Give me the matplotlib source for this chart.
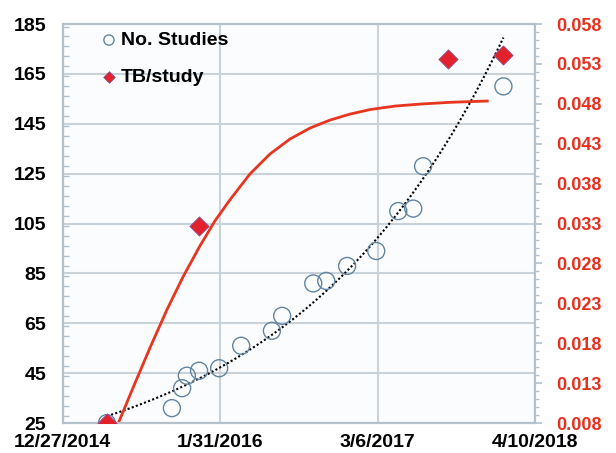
import numpy as np
import pandas as pd
import matplotlib
matplotlib.use("Agg")
import matplotlib.pyplot as plt
from matplotlib.ticker import MultipleLocator

plt.rcParams['font.family'] = ['Liberation Sans', 'DejaVu Sans']

# ---- data ----
study_dates = ["2015-04-18", "2015-09-30", "2015-10-26", "2015-11-07", "2015-12-08",
               "2016-01-28", "2016-03-24", "2016-06-10", "2016-07-06", "2016-09-23",
               "2016-10-26", "2016-12-18", "2017-03-02", "2017-04-27", "2017-06-04",
               "2017-06-29", "2018-01-19"]
n_studies = [25, 31, 39, 44, 46, 47, 56, 62, 68, 81, 82, 88, 94, 110, 111, 128, 160]

tb_dates = ["2015-04-18", "2015-12-08", "2017-09-01", "2018-01-19"]
tb_per_study = [0.008, 0.0327, 0.0536, 0.0541]

# red fitted curve (days since 12/27/2014, TB/study)
fit_days = [141, 178, 221, 264, 305, 348, 386, 425, 475, 526, 577, 628,
            679, 730, 781, 844, 908, 984, 1078]
fit_vals = [0.00800, 0.01239, 0.01740, 0.02216, 0.02630, 0.03018, 0.03331, 0.03601,
            0.03920, 0.04171, 0.04359, 0.04497, 0.04597, 0.04672, 0.04729, 0.04772,
            0.04797, 0.04819, 0.04835]

x_ticks = ["2014-12-27", "2016-01-31", "2017-03-06", "2018-04-10"]
x_tick_labels = ["12/27/2014", "1/31/2016", "3/6/2017", "4/10/2018"]
left_ticks = [25, 45, 65, 85, 105, 125, 145, 165, 185]
right_ticks = [0.008, 0.013, 0.018, 0.023, 0.028, 0.033, 0.038, 0.043, 0.048, 0.053, 0.058]

# ---- derived ----
sd = pd.to_datetime(study_dates)
td = pd.to_datetime(tb_dates)
xt = pd.to_datetime(x_ticks)
start = xt[0]
fd = start + pd.to_timedelta(fit_days, unit="D")

# exponential trendline for No. Studies
tdays = np.array([(d - start).days for d in sd], dtype=float)
b, a = np.polyfit(tdays, np.log(n_studies), 1)
tt = np.linspace(tdays.min(), tdays.max(), 200)
trend = np.exp(a + b * tt)
trend_dates = start + pd.to_timedelta(tt, unit="D")

# ---- plot ----
fig = plt.figure(figsize=(6.16, 4.53), dpi=100)
ax = fig.add_axes([0.102, 0.066, 0.767, 0.881])
ax.set_facecolor("#fbfcfe")
fig.patch.set_facecolor("white")

grid_c = "#c9d1d9"
spine_c = "#b4c0ca"

ax.plot(trend_dates, trend, linestyle=(0, (1, 1.1)), color="black", lw=1.5, zorder=3)
ax.scatter(sd, n_studies, s=150, facecolors="none", edgecolors="#6384a0", linewidths=1.0,
           zorder=4, label="No. Studies")

ax.set_xlim(xt[0], xt[-1])
ax.set_ylim(25, 185)
ax.set_xticks(xt)
ax.set_xticklabels(x_tick_labels)
ax.set_yticks(left_ticks)
ax.yaxis.set_minor_locator(MultipleLocator(4))
ax.grid(True, which="major", color=grid_c, lw=1.5, zorder=0)
ax.set_axisbelow(True)
ax.tick_params(axis="x", length=0, labelsize=14, pad=8)
ax.tick_params(axis="y", which="major", direction="in", length=0, labelsize=14, pad=12)
ax.tick_params(axis="y", which="minor", direction="in", length=4, color=spine_c, width=1)
for lab in ax.get_xticklabels() + ax.get_yticklabels():
    lab.set_fontweight("bold")
for s in ax.spines.values():
    s.set_color(spine_c)
    s.set_linewidth(1.5)

ax2 = ax.twinx()
ax2.plot(fd, fit_vals, color="#e8351f", lw=2.0, zorder=2, solid_joinstyle="round")
ax2.scatter(td, tb_per_study, marker="D", s=95, color="#e3212d", edgecolors="#8a4a8a",
            linewidths=0.6, zorder=5, label="TB/study")
ax2.set_ylim(0.008, 0.058)
ax2.set_yticks(right_ticks)
ax2.set_yticklabels([f"{v:.3f}" for v in right_ticks])
ax2.yaxis.set_minor_locator(MultipleLocator(0.001))
ax2.tick_params(axis="y", which="major", direction="out", length=5, color=spine_c, width=1.2,
                labelsize=13, labelcolor="#e8301e", pad=10)
ax2.tick_params(axis="y", which="minor", direction="out", length=3, color=spine_c, width=1)
for lab in ax2.get_yticklabels():
    lab.set_fontweight("bold")
for s in ax2.spines.values():
    s.set_color(spine_c)
    s.set_linewidth(1.5)

h1, l1 = ax.get_legend_handles_labels()
h2, l2 = ax2.get_legend_handles_labels()
leg = ax2.legend(h1 + h2, l1 + l2, loc="upper left", bbox_to_anchor=(0.04, 1.025), frameon=False,
                 prop={"size": 14, "weight": "bold"}, labelspacing=1.0, handletextpad=0.1,
                 markerscale=0.6, handlelength=1.0)

fig.savefig("out.png", dpi=100)
